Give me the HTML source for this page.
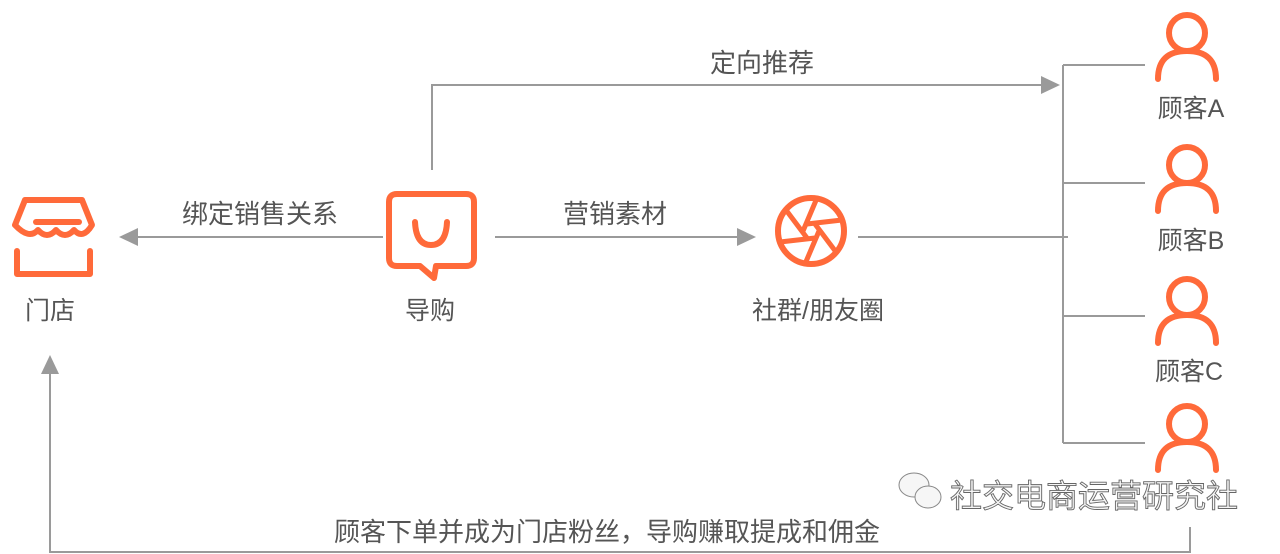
<!DOCTYPE html>
<html><head><meta charset="utf-8"><style>
html,body{margin:0;padding:0;background:#fff;}
svg{display:block;}
text{font-family:"Liberation Sans","Noto Sans CJK SC",sans-serif;fill:#555;font-size:25px;}
</style></head><body>
<svg width="1280" height="554" viewBox="0 0 1280 554" xmlns="http://www.w3.org/2000/svg">
<g stroke="#9a9a9a" stroke-width="2" fill="none">
<line x1="383" y1="237" x2="135" y2="237"/>
<line x1="495" y1="237" x2="740" y2="237"/>
<line x1="858" y1="237" x2="1068" y2="237"/>
<polyline points="432,170 432,85 1045,85"/>
<line x1="1063" y1="65" x2="1063" y2="443"/>
<line x1="1063" y1="65" x2="1145" y2="65"/>
<line x1="1063" y1="183" x2="1145" y2="183"/>
<line x1="1063" y1="316" x2="1145" y2="316"/>
<line x1="1063" y1="443" x2="1145" y2="443"/>
<polyline points="1190,527 1190,552 50,552 50,372"/>
</g>
<g fill="#9a9a9a">
<polygon points="119,237 138,228 138,246"/>
<polygon points="756,237 737,228 737,246"/>
<polygon points="1060,85 1041,76 1041,94"/>
<polygon points="50,355 41,374 59,374"/>
</g>
<g stroke="#ff6a3a" stroke-width="6" fill="none" stroke-linecap="round" stroke-linejoin="round">
<path d="M25,200 H82 L92,225 Q83,240 74,230 Q65,240 56,230 Q47,240 38,230 Q29,240 15,225 Z"/>
<line x1="36" y1="222" x2="79" y2="222"/>
<path d="M17,251 V274 H90 V251"/>
<path d="M397,194 H466 Q474,194 474,202 V258 Q474,266 466,266 H436 L434,278 L420,266 H397 Q389,266 389,258 V202 Q389,194 397,194 Z"/>
<path d="M415,222 Q416,245 431,245 Q446,245 447,222"/>
<circle cx="811" cy="231" r="33"/>
<g stroke-width="5">
<path d="M819,231 L805,264 M815,238 L780,242 M807,238 L786,210 M803,231 L817,198 M807,224 L842,220 M815,224 L836,252"/>
</g>
<circle cx="1187" cy="33" r="18"/>
<path d="M1158,79 Q1158,51 1187,51 Q1216,51 1216,79"/>
<circle cx="1187" cy="165" r="18"/>
<path d="M1158,211 Q1158,183 1187,183 Q1216,183 1216,211"/>
<circle cx="1187" cy="297" r="18"/>
<path d="M1158,343 Q1158,315 1187,315 Q1216,315 1216,343"/>
<circle cx="1187" cy="424" r="18"/>
<path d="M1158,470 Q1158,442 1187,442 Q1216,442 1216,470"/>
</g>
<text x="50" y="319" text-anchor="middle">门店</text>
<text x="430" y="319" text-anchor="middle">导购</text>
<text x="818" y="319" text-anchor="middle">社群/朋友圈</text>
<text x="260" y="223" text-anchor="middle" style="font-size:26px">绑定销售关系</text>
<text x="615" y="223" text-anchor="middle" style="font-size:26px">营销素材</text>
<text x="762" y="72" text-anchor="middle" style="font-size:26px">定向推荐</text>
<text x="1191" y="117" text-anchor="middle">顾客A</text>
<text x="1191" y="249" text-anchor="middle">顾客B</text>
<text x="1189" y="380" text-anchor="middle">顾客C</text>
<text x="607" y="541" text-anchor="middle" style="font-size:26px">顾客下单并成为门店粉丝，导购赚取提成和佣金</text>
<text x="950" y="507" style="font-size:32px;fill:#f6f6f6;stroke:#666;stroke-width:0.9">社交电商运营研究社</text>
<g fill="#f6f6f6" stroke="#888" stroke-width="1">
<ellipse cx="914" cy="485" rx="15" ry="12"/>
<ellipse cx="928" cy="497" rx="13" ry="11"/>
</g>
</svg>
</body></html>
